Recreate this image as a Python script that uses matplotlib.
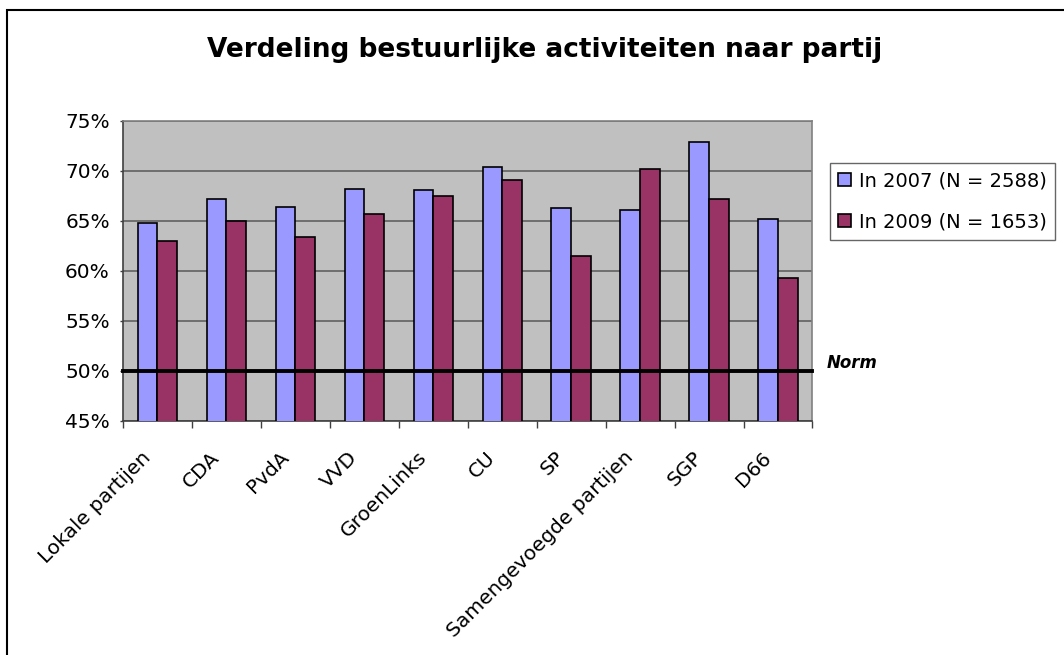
import numpy as np
import matplotlib
matplotlib.use('Agg')
import matplotlib.pyplot as plt
from matplotlib.patches import Rectangle

# Data
partijen = ['Lokale partijen', 'CDA', 'PvdA', 'VVD', 'GroenLinks', 'CU', 'SP',
            'Samengevoegde partijen', 'SGP', 'D66']
in_2007 = [64.8, 67.2, 66.4, 68.2, 68.1, 70.4, 66.3, 66.1, 72.9, 65.2]
in_2009 = [63.0, 65.0, 63.4, 65.7, 67.5, 69.1, 61.5, 70.2, 67.2, 59.3]
labels = ['In 2007 (N = 2588)', 'In 2009 (N = 1653)']
norm = 50
y_ticks = [45, 50, 55, 60, 65, 70, 75]

plt.rcParams['font.family'] = 'DejaVu Sans'

fig = plt.figure(figsize=(10.64, 6.55), dpi=100)
ax = fig.add_axes([0.1156, 0.3573, 0.648, 0.458])
ax.set_facecolor('#C0C0C0')

x = np.arange(len(partijen))
w = 1 / 3.5
ax.bar(x - w / 2, in_2007, w, color='#9999FF', edgecolor='black',
       linewidth=1.2, label=labels[0], zorder=3)
ax.bar(x + w / 2, in_2009, w, color='#993366', edgecolor='black',
       linewidth=1.2, label=labels[1], zorder=3)

ax.set_ylim(45, 75)
ax.set_xlim(-0.5, len(partijen) - 0.5)
ax.set_yticks(y_ticks)
ax.set_yticklabels([f'{t}%' for t in y_ticks], fontsize=14.5)
ax.yaxis.grid(True, color='#606060', linewidth=1.2, zorder=1)
ax.set_axisbelow(True)

# ticks at category borders
ax.set_xticks(np.arange(len(partijen) + 1) - 0.5)
ax.set_xticklabels([])
ax.tick_params(axis='x', length=5, width=1, color='#404040')
ax.tick_params(axis='y', length=2.5, width=1, color='#404040', pad=7)
for i, p in enumerate(partijen):
    ax.text(i - 0.24, 42.3, p, rotation=45, ha='right', va='top',
            rotation_mode='anchor', fontsize=14.5, clip_on=False)

for s in ['top', 'right']:
    ax.spines[s].set_color('#808080')
    ax.spines[s].set_linewidth(1.2)
for s in ['left', 'bottom']:
    ax.spines[s].set_color('#404040')
    ax.spines[s].set_linewidth(1.2)

ax.axhline(norm, color='black', linewidth=2.8, zorder=4, clip_on=False)
ax.text(1.02, norm + 0.8, 'Norm', transform=ax.get_yaxis_transform(),
        fontsize=12, fontweight='bold', fontstyle='italic', va='center')

fig.text(0.512, 0.924, 'Verdeling bestuurlijke activiteiten naar partij',
         ha='center', va='center', fontsize=19, fontweight='bold')

leg = ax.legend(loc='upper left', bbox_to_anchor=(1.025, 0.86), fontsize=14,
                frameon=True, fancybox=False, edgecolor='#404040',
                handlelength=0.65, handleheight=0.65, handletextpad=0.4,
                borderpad=0.45, labelspacing=1.1, borderaxespad=0)
leg.get_frame().set_linewidth(1.0)

# chart border (left and top visible)
fig.patches.append(Rectangle((7 / 1064, -0.1), 1.2, (655 - 10) / 655 + 0.1,
                             transform=fig.transFigure, fill=False,
                             edgecolor='black', linewidth=1.5))

fig.savefig('out.png', dpi=100)
